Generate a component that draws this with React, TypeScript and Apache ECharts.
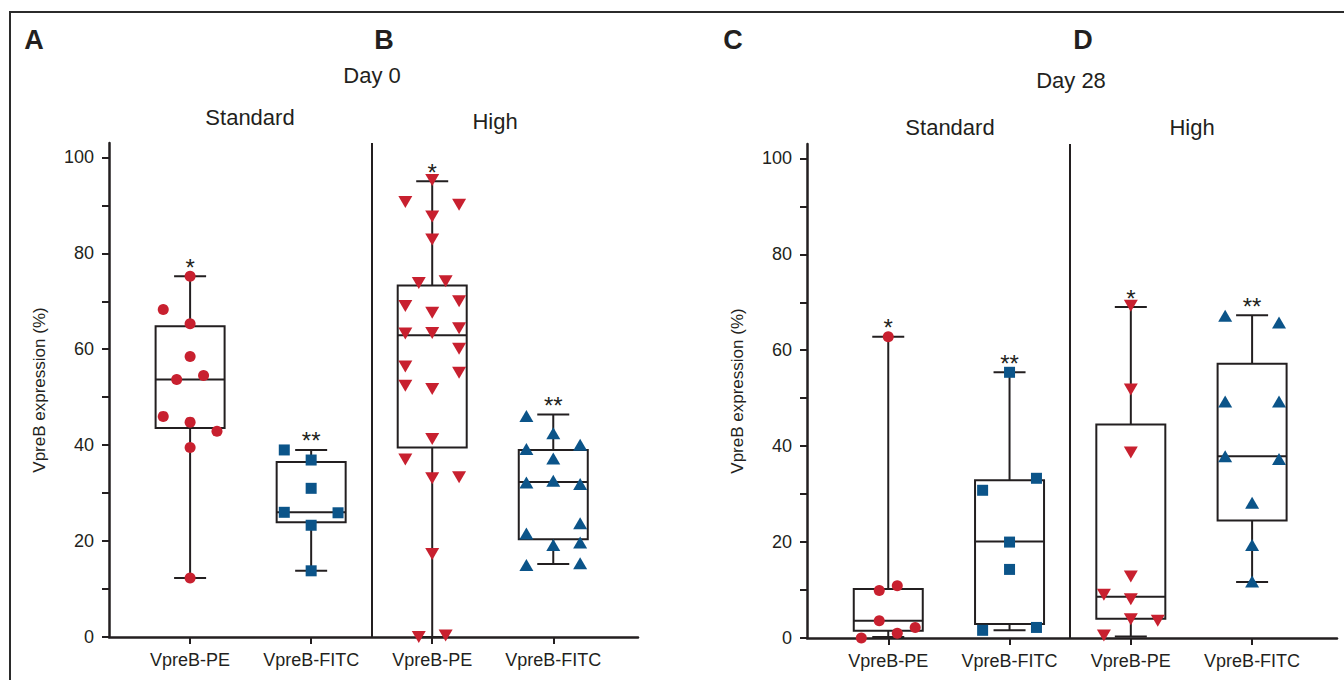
import React, { useEffect, useRef } from 'react';
import * as echarts from 'echarts';

// ---------- data ----------
const categories = ['VpreB-PE', 'VpreB-FITC', 'VpreB-PE', 'VpreB-FITC'];
const categoryPositions = [0, 1, 2, 3];
const yTickValues = [0, 10, 20, 30, 40, 50, 60, 70, 80, 90, 100];
const yLabelValues = [0, 20, 40, 60, 80, 100];
const significance = ['*', '**', '*', '**'];

// Day 0 points (values) and jitter slots
const day0StdPE = [75.2, 68.3, 65.3, 58.5, 53.7, 54.5, 46.0, 44.8, 42.9, 39.5, 12.3];
const day0StdPEJitter = [0, -2, 0, 0, -1, 1, -2, 0, 2, 0, 0];
const day0StdFITC = [39.0, 36.9, 31.0, 26.0, 25.9, 23.3, 13.8];
const day0StdFITCJitter = [-2, 0, 0, -2, 2, 0, 0];
const day0HighPE = [95.3, 90.7, 90.1, 87.7, 82.9, 73.8, 74.2, 69.0, 70.0, 67.6, 63.3, 63.4, 64.4, 60.1, 56.4, 55.1, 52.4, 51.7, 41.3, 37.0, 33.1, 33.3, 17.3, 0.0, 0.3];
const day0HighPEJitter = [0, -2, 2, 0, 0, -1, 1, -2, 2, 0, -2, 0, 2, 2, -2, 2, -2, 0, 0, -2, 0, 2, 0, -1, 1];
const day0HighFITC = [46.1, 42.5, 39.2, 40.1, 37.2, 32.2, 32.6, 31.9, 23.7, 21.6, 19.2, 19.7, 15.0, 15.4];
const day0HighFITCJitter = [-2, 0, -2, 2, 0, -2, 0, 2, 2, -2, 0, 2, -2, 2];

// Day 28 points
const day28StdPE = [62.8, 9.9, 10.9, 3.6, 2.2, 1.0, 0.0];
const day28StdPEJitter = [0, -0.67, 0.67, -0.67, 2, 0.67, -2];
const day28StdFITC = [55.4, 33.3, 30.8, 20.0, 14.3, 2.2, 1.6];
const day28StdFITCJitter = [0, 2, -2, 0, 0, 2, -2];
const day28HighPE = [69.3, 51.8, 38.7, 12.8, 9.0, 8.1, 3.9, 3.6, 0.5];
const day28HighPEJitter = [0, 0, 0, 0, -2, 0, 0, 2, -2];
const day28HighFITC = [67.2, 65.8, 49.3, 49.3, 37.9, 37.3, 28.2, 19.4, 11.8];
const day28HighFITCJitter = [-2, 2, -2, 2, -2, 2, 0, 0, 0];

// Box stats: [min, q1, median, q3, max]
const day0Boxes = [
  [12.3, 43.6, 53.7, 64.8, 75.2],
  [13.8, 23.9, 26.0, 36.5, 39.0],
  [0.0, 39.5, 62.9, 73.3, 95.0],
  [15.2, 20.4, 32.3, 39.0, 46.4],
];
const day28Boxes = [
  [0.2, 1.5, 3.6, 10.2, 62.8],
  [1.6, 2.9, 20.1, 32.9, 55.4],
  [0.3, 4.0, 8.6, 44.5, 69.0],
  [11.7, 24.5, 37.9, 57.2, 67.3],
];

// ---------- styles ----------
const RED = '#c8202f';
const BLUE = '#0b5489';
const INK = '#231f20';
const FONT = '"Liberation Sans", Arial, Helvetica, sans-serif';
const JITTER = 0.111;

function pts(catIdx: number, vals: number[], jit: number[]) {
  return vals.map((v, i) => [catIdx + jit[i] * JITTER, v]);
}

function boxSeries(idx: number, boxes: number[][]) {
  return {
    type: 'custom',
    xAxisIndex: idx,
    yAxisIndex: idx,
    z: 2,
    silent: true,
    encode: { x: 0, y: [1, 2, 3, 4, 5] },
    data: boxes.map((b, i) => [categoryPositions[i], ...b]),
    renderItem: (params: any, api: any) => {
      const x = api.value(0);
      const pMin = api.coord([x, api.value(1)]);
      const pQ1 = api.coord([x, api.value(2)]);
      const pMed = api.coord([x, api.value(3)]);
      const pQ3 = api.coord([x, api.value(4)]);
      const pMax = api.coord([x, api.value(5)]);
      const cx = pMin[0];
      const bw = 34.5;
      const cw = 16;
      const ls = { stroke: INK, lineWidth: 2 };
      return {
        type: 'group',
        children: [
          { type: 'line', shape: { x1: cx, y1: pMax[1], x2: cx, y2: pQ3[1] }, style: ls },
          { type: 'line', shape: { x1: cx, y1: pQ1[1], x2: cx, y2: pMin[1] }, style: ls },
          { type: 'line', shape: { x1: cx - cw, y1: pMax[1], x2: cx + cw, y2: pMax[1] }, style: ls },
          { type: 'line', shape: { x1: cx - cw, y1: pMin[1], x2: cx + cw, y2: pMin[1] }, style: ls },
          {
            type: 'rect',
            shape: { x: cx - bw, y: pQ3[1], width: bw * 2, height: pQ1[1] - pQ3[1] },
            style: { fill: 'none', stroke: INK, lineWidth: 2 },
          },
          { type: 'line', shape: { x1: cx - bw, y1: pMed[1], x2: cx + bw, y2: pMed[1] }, style: ls },
          {
            type: 'text',
            style: {
              text: significance[params.dataIndex],
              x: cx,
              y: pMax[1] - 9,
              align: 'center',
              verticalAlign: 'middle',
              fill: INK,
              font: `24px ${FONT}`,
            },
          },
        ],
      };
    },
  };
}

function scatter(idx: number, data: number[][], color: string, symbol: string, size: any, rotate = 0, divider = false) {
  const s: any = {
    type: 'scatter',
    xAxisIndex: idx,
    yAxisIndex: idx,
    z: 3,
    data,
    symbol,
    symbolSize: size,
    symbolRotate: rotate,
    itemStyle: { color, opacity: 1 },
    silent: true,
  };
  if (divider) {
    s.markLine = {
      silent: true,
      symbol: 'none',
      label: { show: false },
      lineStyle: { color: INK, width: 2, type: 'solid' },
      data: [{ xAxis: 1.5 }],
    };
  }
  return s;
}

function xAxis(idx: number) {
  return {
    type: 'value',
    gridIndex: idx,
    min: -0.67,
    max: 3.7,
    splitLine: { show: false },
    axisLine: { show: true, onZero: false, lineStyle: { color: INK, width: 2.5 } },
    axisTick: { show: true, length: 7, customValues: categoryPositions, lineStyle: { color: INK, width: 2 } },
    axisLabel: {
      show: true,
      customValues: categoryPositions,
      formatter: (v: number) => categories[Math.round(v)] ?? '',
      margin: 14,
      fontSize: 18,
      color: INK,
      fontFamily: FONT,
    },
  };
}

function yAxis(idx: number) {
  return {
    type: 'value',
    gridIndex: idx,
    min: 0,
    max: 103,
    interval: 10,
    splitLine: { show: false },
    axisLine: { show: true, onZero: false, lineStyle: { color: INK, width: 2.5 } },
    axisTick: { show: true, length: 7, customValues: yTickValues, lineStyle: { color: INK, width: 2 } },
    axisLabel: {
      show: true,
      customValues: yLabelValues,
      formatter: (v: number) => (v % 20 === 0 && v <= 100 ? String(v) : ''),
      margin: 15,
      fontSize: 18,
      color: INK,
      fontFamily: FONT,
    },
    name: 'VpreB expression (%)',
    nameLocation: 'middle',
    nameRotate: 90,
    nameGap: 61,
    nameTextStyle: { fontSize: 17, color: INK, fontFamily: FONT },
  };
}

function label(text: string, x: number, y: number, size: number, bold = false) {
  return {
    type: 'text',
    x,
    y,
    silent: true,
    style: {
      text,
      align: 'center',
      verticalAlign: 'middle',
      fill: INK,
      font: `${bold ? 'bold ' : ''}${size}px ${FONT}`,
    },
  };
}

export default function App() {
  const ref = useRef<HTMLDivElement>(null);
  useEffect(() => {
    document.body.style.margin = '0';
    if (!ref.current) return;
    const chart = echarts.init(ref.current, undefined, { renderer: 'svg' });
    const option: any = {
      animation: false,
      backgroundColor: '#ffffff',
      grid: [
        { left: 109, top: 143, width: 529, height: 494 },
        { left: 807, top: 144, width: 530, height: 494 },
      ],
      xAxis: [xAxis(0), xAxis(1)],
      yAxis: [yAxis(0), yAxis(1)],
      graphic: [
        {
          type: 'rect',
          silent: true,
          shape: { x: 10, y: 12, width: 1400, height: 720 },
          style: { fill: 'none', stroke: '#2b2b2b', lineWidth: 2 },
        },
        label('A', 34, 40, 27, true),
        label('B', 384, 40, 27, true),
        label('C', 733, 40, 27, true),
        label('D', 1083, 40, 27, true),
        label('Day 0', 372, 75, 22),
        label('Standard', 250, 117, 22),
        label('High', 495, 121, 22),
        label('Day 28', 1071, 80, 22),
        label('Standard', 950, 127, 22),
        label('High', 1192, 127, 22),
      ],
      series: [
        boxSeries(0, day0Boxes),
        boxSeries(1, day28Boxes),
        scatter(0, pts(0, day0StdPE, day0StdPEJitter), RED, 'circle', 11, 0, true),
        scatter(0, pts(1, day0StdFITC, day0StdFITCJitter), BLUE, 'rect', 11),
        scatter(0, pts(2, day0HighPE, day0HighPEJitter), RED, 'triangle', [14, 12], 180),
        scatter(0, pts(3, day0HighFITC, day0HighFITCJitter), BLUE, 'triangle', [14, 12]),
        scatter(1, pts(0, day28StdPE, day28StdPEJitter), RED, 'circle', 11, 0, true),
        scatter(1, pts(1, day28StdFITC, day28StdFITCJitter), BLUE, 'rect', 11),
        scatter(1, pts(2, day28HighPE, day28HighPEJitter), RED, 'triangle', [14, 12], 180),
        scatter(1, pts(3, day28HighFITC, day28HighFITCJitter), BLUE, 'triangle', [14, 12]),
      ],
    };
    chart.setOption(option);
    return () => chart.dispose();
  }, []);
  return <div ref={ref} style={{ width: 1344, height: 680 }} />;
}
